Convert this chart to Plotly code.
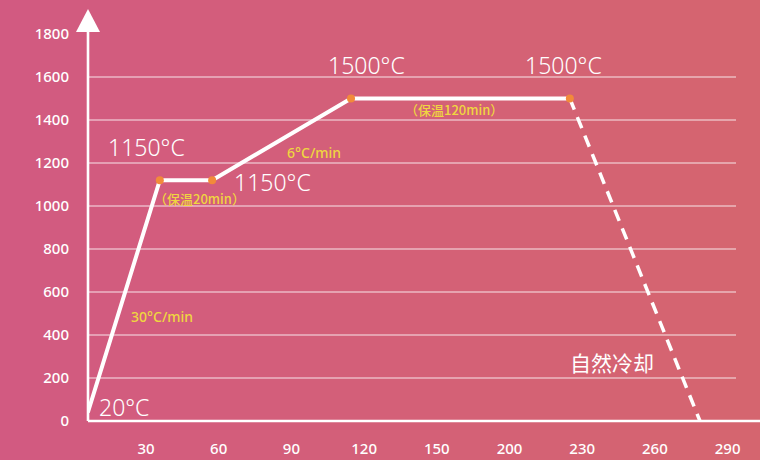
import plotly.graph_objects as go

# ---- data ----
x_tick_pos = [1, 2, 3, 4, 5, 6, 7, 8, 9]
x_tick_labels = ["30", "60", "90", "120", "150", "200", "230", "260", "290"]
y_ticks = [0, 200, 400, 600, 800, 1000, 1200, 1400, 1600, 1800]

heat_x = [0.2, 1.19, 1.91, 3.82, 6.83]
heat_y = [40, 1120, 1120, 1500, 1500]
cool_x = [6.83, 8.62]
cool_y = [1500, 0]

# ---- geometry (pixels) ----
W, H = 760, 460
L, R, T, B = 88, 736, 34, 421
PW, PH = R - L, B - T


def px(xp):
    return (xp - L) / PW


def py(yp):
    return (B - yp) / PH


fig = go.Figure()

fig.add_trace(go.Scatter(
    x=cool_x, y=cool_y, mode="lines",
    line=dict(color="white", width=3.5, dash="12px,8px"),
    cliponaxis=False, hoverinfo="skip", showlegend=False))
fig.add_trace(go.Scatter(
    x=heat_x, y=heat_y, mode="lines+markers",
    line=dict(color="white", width=4),
    marker=dict(color="#F28A3A", size=8),
    cliponaxis=False, hoverinfo="skip", showlegend=False))

shapes = []
# gradient background
n = 76
c0 = (210, 90, 129)
c1 = (213, 101, 111)
for i in range(n):
    t = i / (n - 1)
    col = tuple(round(c0[k] + (c1[k] - c0[k]) * t) for k in range(3))
    x0p = i * W / n
    x1p = (i + 1) * W / n + 0.6
    shapes.append(dict(type="rect", xref="paper", yref="paper",
                       x0=px(x0p), x1=px(x1p), y0=py(H), y1=py(0),
                       fillcolor="rgb(%d,%d,%d)" % col, line=dict(width=0),
                       layer="below"))
# axes lines
shapes.append(dict(type="line", xref="paper", yref="paper",
                   x0=px(L), x1=px(W), y0=0, y1=0,
                   line=dict(color="white", width=2.6), layer="above"))
shapes.append(dict(type="line", xref="paper", yref="paper",
                   x0=0, x1=0, y0=0, y1=py(30),
                   line=dict(color="white", width=2.6), layer="above"))
# arrow head
shapes.append(dict(type="path", xref="paper", yref="paper",
                   path="M %f,%f L %f,%f L %f,%f Z" % (
                       px(76), py(32), px(L), py(9), px(100), py(32)),
                   fillcolor="white", line=dict(width=0), layer="above"))

font_fam = "Noto Sans, Lato, sans-serif"
yellow = "#EFD640"
annos = []


def add_text(text, xc, yc, size, color, family=font_fam, weight=400):
    annos.append(dict(text=text, xref="paper", yref="paper",
                      x=px(xc), y=py(yc), xanchor="center", yanchor="middle",
                      showarrow=False,
                      font=dict(size=size, color=color, family=family, weight=weight)))


add_text("1150°C", 146, 147, 23, "white", weight=300)
add_text("1150°C", 272, 182, 23, "white", weight=300)
add_text("1500°C", 366, 65, 23, "white", weight=300)
add_text("1500°C", 563, 65, 23, "white", weight=300)
add_text("20°C", 124, 407, 23, "white", weight=300)
add_text("自然冷却", 612, 362, 21, "white", "Noto Sans CJK SC, sans-serif", 400)
add_text("30°C/min", 162, 316, 14, yellow, weight=500)
add_text("6°C/min", 314, 152, 14, yellow, weight=500)
add_text("（保温20min）", 199, 198, 13, yellow, "Noto Sans CJK SC, Noto Sans, sans-serif", 500)
add_text("（保温120min）", 454, 110, 13, yellow, "Noto Sans CJK SC, Noto Sans, sans-serif", 500)

fig.update_layout(
    width=W, height=H, autosize=False,
    margin=dict(l=L, r=W - R, t=T, b=H - B, pad=0, autoexpand=False),
    paper_bgcolor="rgba(0,0,0,0)", plot_bgcolor="rgba(0,0,0,0)",
    shapes=shapes, annotations=annos, showlegend=False,
    font=dict(family=font_fam, color="white"),
    xaxis=dict(range=[1 + (L - 146) / 72.7, 1 + (R - 146) / 72.7],
               tickvals=x_tick_pos, ticktext=x_tick_labels,
               showgrid=False, zeroline=False, showline=False,
               ticks="", ticklabelstandoff=17, automargin=False,
               tickfont=dict(size=15, color="white", family=font_fam, weight=500),
               fixedrange=True),
    yaxis=dict(range=[0, 1800], tickvals=y_ticks,
               showgrid=True, gridcolor="rgba(255,255,255,0.42)", gridwidth=1.5,
               zeroline=False, showline=False, ticks="", ticklabelstandoff=18,
               automargin=False,
               tickfont=dict(size=15, color="white", family=font_fam, weight=500),
               fixedrange=True),
)

fig.write_html("out.html",
               config={"displayModeBar": False, "staticPlot": True},
               post_script="document.body.style.margin='0';document.body.style.overflow='hidden';")
